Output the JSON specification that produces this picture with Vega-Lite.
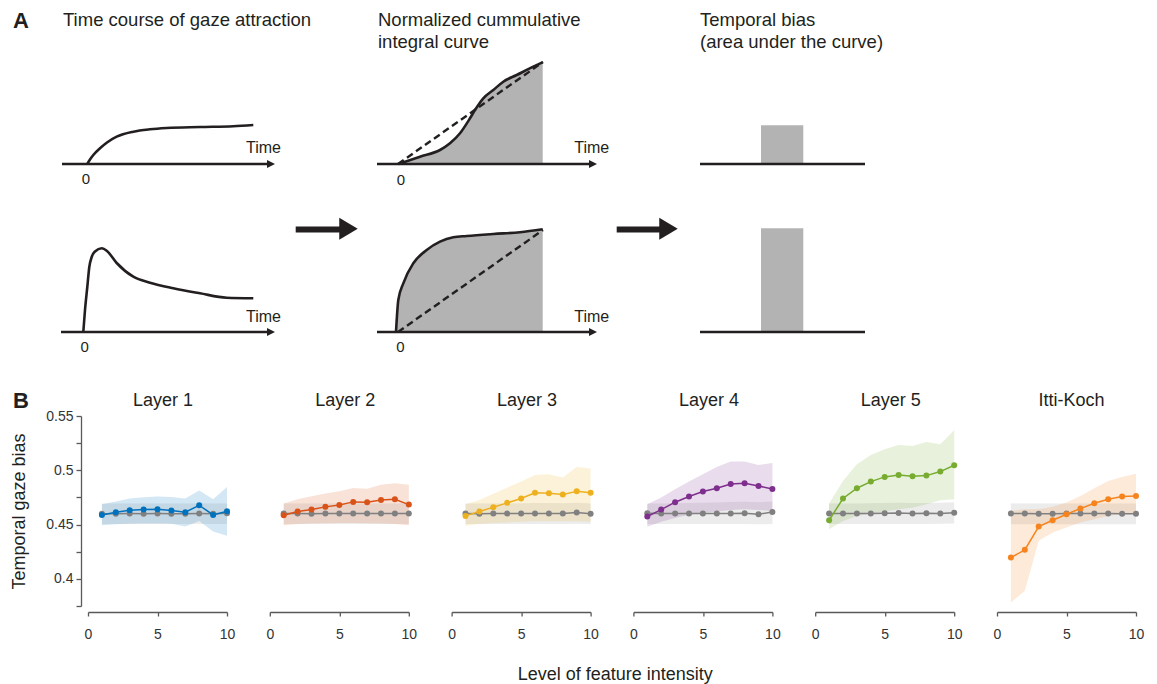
{
  "$schema": "https://vega.github.io/schema/vega-lite/v6.json",
  "padding": {"left": 10, "top": 5, "right": 8, "bottom": 2},
  "config": {"view": {"stroke": null}, "font": "Liberation Sans"},
  "datasets": {
    "one": [{}],
    "c1": [
      {"curve": "sustained", "t": 2.3, "v": 168}, {"curve": "sustained", "t": 5, "v": 172.5}, {"curve": "sustained", "t": 8.3, "v": 177},
      {"curve": "sustained", "t": 15, "v": 183.7}, {"curve": "sustained", "t": 22, "v": 189.5}, {"curve": "sustained", "t": 31.7, "v": 195.3},
      {"curve": "sustained", "t": 48.3, "v": 200.3}, {"curve": "sustained", "t": 65, "v": 202.7}, {"curve": "sustained", "t": 81.7, "v": 204},
      {"curve": "sustained", "t": 115, "v": 205}, {"curve": "sustained", "t": 148.3, "v": 205.8}, {"curve": "sustained", "t": 168.3, "v": 207},
      {"curve": "transient", "t": -1.7, "v": 0}, {"curve": "transient", "t": 0, "v": 22}, {"curve": "transient", "t": 2.3, "v": 45},
      {"curve": "transient", "t": 4.3, "v": 65}, {"curve": "transient", "t": 6.7, "v": 75}, {"curve": "transient", "t": 10, "v": 80.5},
      {"curve": "transient", "t": 16.7, "v": 83.7}, {"curve": "transient", "t": 22, "v": 81}, {"curve": "transient", "t": 31.7, "v": 69},
      {"curve": "transient", "t": 48.3, "v": 55.3}, {"curve": "transient", "t": 65, "v": 49.3}, {"curve": "transient", "t": 88.3, "v": 43.7},
      {"curve": "transient", "t": 115, "v": 38.7}, {"curve": "transient", "t": 141.7, "v": 34.3}, {"curve": "transient", "t": 168.3, "v": 33.7}
    ],
    "c2top": [
      {"t": 0.3, "v": 168}, {"t": 22, "v": 175.3}, {"t": 42, "v": 182}, {"t": 52, "v": 188.7}, {"t": 62, "v": 198.7},
      {"t": 72, "v": 213.7}, {"t": 77, "v": 222}, {"t": 85.3, "v": 233.7}, {"t": 95.3, "v": 242}, {"t": 105.3, "v": 250.3},
      {"t": 118.7, "v": 257}, {"t": 135.3, "v": 265.3}, {"t": 144.7, "v": 269.7}
    ],
    "c2bot": [
      {"t": -2, "v": 0}, {"t": 0.3, "v": 32}, {"t": 5.3, "v": 48.7}, {"t": 15.3, "v": 68.7}, {"t": 28.7, "v": 82},
      {"t": 42, "v": 90.3}, {"t": 55.3, "v": 94.7}, {"t": 68.7, "v": 96}, {"t": 95.3, "v": 98}, {"t": 122, "v": 99.7},
      {"t": 144.7, "v": 102.7}
    ],
    "bias": [
      {"panel": "Layer 1", "x": 1, "m": 0.4589, "lo": 0.4494, "hi": 0.4688, "g": 0.4600, "glo": 0.4505, "ghi": 0.4695},
      {"panel": "Layer 1", "x": 2, "m": 0.4614, "lo": 0.4503, "hi": 0.4712, "g": 0.4600, "glo": 0.4505, "ghi": 0.4695},
      {"panel": "Layer 1", "x": 3, "m": 0.4632, "lo": 0.4507, "hi": 0.4740, "g": 0.4601, "glo": 0.4505, "ghi": 0.4695},
      {"panel": "Layer 1", "x": 4, "m": 0.4638, "lo": 0.4509, "hi": 0.4752, "g": 0.4600, "glo": 0.4505, "ghi": 0.4695},
      {"panel": "Layer 1", "x": 5, "m": 0.4641, "lo": 0.4509, "hi": 0.4758, "g": 0.4601, "glo": 0.4505, "ghi": 0.4695},
      {"panel": "Layer 1", "x": 6, "m": 0.4629, "lo": 0.4507, "hi": 0.4755, "g": 0.4600, "glo": 0.4505, "ghi": 0.4695},
      {"panel": "Layer 1", "x": 7, "m": 0.4614, "lo": 0.4482, "hi": 0.4740, "g": 0.4600, "glo": 0.4505, "ghi": 0.4695},
      {"panel": "Layer 1", "x": 8, "m": 0.4678, "lo": 0.4534, "hi": 0.4813, "g": 0.4601, "glo": 0.4505, "ghi": 0.4695},
      {"panel": "Layer 1", "x": 9, "m": 0.4589, "lo": 0.4436, "hi": 0.4734, "g": 0.4600, "glo": 0.4505, "ghi": 0.4695},
      {"panel": "Layer 1", "x": 10, "m": 0.4623, "lo": 0.4396, "hi": 0.4847, "g": 0.4605, "glo": 0.4505, "ghi": 0.4695},
      {"panel": "Layer 2", "x": 1, "m": 0.4586, "lo": 0.4494, "hi": 0.4695, "g": 0.4601, "glo": 0.4505, "ghi": 0.4695},
      {"panel": "Layer 2", "x": 2, "m": 0.4620, "lo": 0.4505, "hi": 0.4733, "g": 0.4601, "glo": 0.4505, "ghi": 0.4695},
      {"panel": "Layer 2", "x": 3, "m": 0.4638, "lo": 0.4510, "hi": 0.4762, "g": 0.4600, "glo": 0.4505, "ghi": 0.4695},
      {"panel": "Layer 2", "x": 4, "m": 0.4663, "lo": 0.4512, "hi": 0.4787, "g": 0.4601, "glo": 0.4505, "ghi": 0.4695},
      {"panel": "Layer 2", "x": 5, "m": 0.4681, "lo": 0.4514, "hi": 0.4808, "g": 0.4601, "glo": 0.4505, "ghi": 0.4695},
      {"panel": "Layer 2", "x": 6, "m": 0.4709, "lo": 0.4515, "hi": 0.4836, "g": 0.4603, "glo": 0.4505, "ghi": 0.4695},
      {"panel": "Layer 2", "x": 7, "m": 0.4706, "lo": 0.4512, "hi": 0.4830, "g": 0.4601, "glo": 0.4505, "ghi": 0.4695},
      {"panel": "Layer 2", "x": 8, "m": 0.4727, "lo": 0.4510, "hi": 0.4866, "g": 0.4603, "glo": 0.4505, "ghi": 0.4695},
      {"panel": "Layer 2", "x": 9, "m": 0.4733, "lo": 0.4505, "hi": 0.4880, "g": 0.4601, "glo": 0.4505, "ghi": 0.4695},
      {"panel": "Layer 2", "x": 10, "m": 0.4684, "lo": 0.4494, "hi": 0.4866, "g": 0.4601, "glo": 0.4505, "ghi": 0.4695},
      {"panel": "Layer 3", "x": 1, "m": 0.4580, "lo": 0.4490, "hi": 0.4688, "g": 0.4601, "glo": 0.4505, "ghi": 0.4695},
      {"panel": "Layer 3", "x": 2, "m": 0.4620, "lo": 0.4505, "hi": 0.4727, "g": 0.4600, "glo": 0.4505, "ghi": 0.4695},
      {"panel": "Layer 3", "x": 3, "m": 0.4660, "lo": 0.4515, "hi": 0.4785, "g": 0.4601, "glo": 0.4505, "ghi": 0.4695},
      {"panel": "Layer 3", "x": 4, "m": 0.4700, "lo": 0.4520, "hi": 0.4840, "g": 0.4601, "glo": 0.4505, "ghi": 0.4695},
      {"panel": "Layer 3", "x": 5, "m": 0.4740, "lo": 0.4525, "hi": 0.4896, "g": 0.4601, "glo": 0.4505, "ghi": 0.4697},
      {"panel": "Layer 3", "x": 6, "m": 0.4792, "lo": 0.4530, "hi": 0.4957, "g": 0.4603, "glo": 0.4505, "ghi": 0.4698},
      {"panel": "Layer 3", "x": 7, "m": 0.4789, "lo": 0.4530, "hi": 0.4963, "g": 0.4602, "glo": 0.4505, "ghi": 0.4698},
      {"panel": "Layer 3", "x": 8, "m": 0.4776, "lo": 0.4530, "hi": 0.4933, "g": 0.4602, "glo": 0.4505, "ghi": 0.4697},
      {"panel": "Layer 3", "x": 9, "m": 0.4807, "lo": 0.4530, "hi": 0.5031, "g": 0.4612, "glo": 0.4507, "ghi": 0.4700},
      {"panel": "Layer 3", "x": 10, "m": 0.4792, "lo": 0.4525, "hi": 0.5016, "g": 0.4600, "glo": 0.4505, "ghi": 0.4695},
      {"panel": "Layer 4", "x": 1, "m": 0.4574, "lo": 0.4480, "hi": 0.4688, "g": 0.4605, "glo": 0.4505, "ghi": 0.4695},
      {"panel": "Layer 4", "x": 2, "m": 0.4638, "lo": 0.4525, "hi": 0.4749, "g": 0.4601, "glo": 0.4505, "ghi": 0.4695},
      {"panel": "Layer 4", "x": 3, "m": 0.4706, "lo": 0.4560, "hi": 0.4826, "g": 0.4602, "glo": 0.4505, "ghi": 0.4697},
      {"panel": "Layer 4", "x": 4, "m": 0.4758, "lo": 0.4590, "hi": 0.4896, "g": 0.4602, "glo": 0.4505, "ghi": 0.4698},
      {"panel": "Layer 4", "x": 5, "m": 0.4804, "lo": 0.4610, "hi": 0.4963, "g": 0.4602, "glo": 0.4505, "ghi": 0.4700},
      {"panel": "Layer 4", "x": 6, "m": 0.4835, "lo": 0.4620, "hi": 0.5031, "g": 0.4602, "glo": 0.4505, "ghi": 0.4703},
      {"panel": "Layer 4", "x": 7, "m": 0.4874, "lo": 0.4635, "hi": 0.5080, "g": 0.4602, "glo": 0.4505, "ghi": 0.4708},
      {"panel": "Layer 4", "x": 8, "m": 0.4880, "lo": 0.4640, "hi": 0.5080, "g": 0.4604, "glo": 0.4505, "ghi": 0.4710},
      {"panel": "Layer 4", "x": 9, "m": 0.4856, "lo": 0.4635, "hi": 0.5049, "g": 0.4595, "glo": 0.4503, "ghi": 0.4705},
      {"panel": "Layer 4", "x": 10, "m": 0.4828, "lo": 0.4625, "hi": 0.5068, "g": 0.4616, "glo": 0.4505, "ghi": 0.4712},
      {"panel": "Layer 5", "x": 1, "m": 0.4540, "lo": 0.4457, "hi": 0.4693, "g": 0.4601, "glo": 0.4505, "ghi": 0.4695},
      {"panel": "Layer 5", "x": 2, "m": 0.4740, "lo": 0.4534, "hi": 0.4902, "g": 0.4601, "glo": 0.4505, "ghi": 0.4695},
      {"panel": "Layer 5", "x": 3, "m": 0.4835, "lo": 0.4580, "hi": 0.5056, "g": 0.4601, "glo": 0.4505, "ghi": 0.4695},
      {"panel": "Layer 5", "x": 4, "m": 0.4896, "lo": 0.4601, "hi": 0.5141, "g": 0.4601, "glo": 0.4505, "ghi": 0.4697},
      {"panel": "Layer 5", "x": 5, "m": 0.4939, "lo": 0.4620, "hi": 0.5193, "g": 0.4604, "glo": 0.4505, "ghi": 0.4698},
      {"panel": "Layer 5", "x": 6, "m": 0.4957, "lo": 0.4641, "hi": 0.5233, "g": 0.4606, "glo": 0.4505, "ghi": 0.4700},
      {"panel": "Layer 5", "x": 7, "m": 0.4945, "lo": 0.4656, "hi": 0.5224, "g": 0.4602, "glo": 0.4505, "ghi": 0.4698},
      {"panel": "Layer 5", "x": 8, "m": 0.4951, "lo": 0.4688, "hi": 0.5261, "g": 0.4604, "glo": 0.4505, "ghi": 0.4698},
      {"panel": "Layer 5", "x": 9, "m": 0.4988, "lo": 0.4724, "hi": 0.5240, "g": 0.4602, "glo": 0.4507, "ghi": 0.4700},
      {"panel": "Layer 5", "x": 10, "m": 0.5046, "lo": 0.4733, "hi": 0.5368, "g": 0.4610, "glo": 0.4510, "ghi": 0.4705},
      {"panel": "Itti-Koch", "x": 1, "m": 0.4196, "lo": 0.3783, "hi": 0.4626, "g": 0.4601, "glo": 0.4503, "ghi": 0.4693},
      {"panel": "Itti-Koch", "x": 2, "m": 0.4267, "lo": 0.3890, "hi": 0.4641, "g": 0.4601, "glo": 0.4503, "ghi": 0.4693},
      {"panel": "Itti-Koch", "x": 3, "m": 0.4482, "lo": 0.4350, "hi": 0.4641, "g": 0.4600, "glo": 0.4503, "ghi": 0.4693},
      {"panel": "Itti-Koch", "x": 4, "m": 0.4540, "lo": 0.4426, "hi": 0.4663, "g": 0.4600, "glo": 0.4503, "ghi": 0.4693},
      {"panel": "Itti-Koch", "x": 5, "m": 0.4595, "lo": 0.4472, "hi": 0.4703, "g": 0.4601, "glo": 0.4503, "ghi": 0.4693},
      {"panel": "Itti-Koch", "x": 6, "m": 0.4647, "lo": 0.4518, "hi": 0.4764, "g": 0.4601, "glo": 0.4503, "ghi": 0.4693},
      {"panel": "Itti-Koch", "x": 7, "m": 0.4697, "lo": 0.4549, "hi": 0.4835, "g": 0.4601, "glo": 0.4503, "ghi": 0.4693},
      {"panel": "Itti-Koch", "x": 8, "m": 0.4733, "lo": 0.4580, "hi": 0.4902, "g": 0.4601, "glo": 0.4503, "ghi": 0.4693},
      {"panel": "Itti-Koch", "x": 9, "m": 0.4758, "lo": 0.4595, "hi": 0.4939, "g": 0.4600, "glo": 0.4503, "ghi": 0.4693},
      {"panel": "Itti-Koch", "x": 10, "m": 0.4764, "lo": 0.4605, "hi": 0.4969, "g": 0.4600, "glo": 0.4503, "ghi": 0.4693}
    ]
  },
  "title": {"text": "Level of feature intensity", "orient": "bottom", "anchor": "middle", "fontSize": 18, "fontWeight": "normal", "color": "#231f20", "offset": 25, "dx": 38},
  "spacing": 29,
  "vconcat": [
    {
      "hconcat": [
        {
          "width": 273, "height": 355,
          "layer": [
            {"data": {"name": "c1"}, "mark": {"type": "line", "color": "#231f20", "strokeWidth": 2.6, "interpolate": "monotone"},
             "encoding": {"x": {"field": "t", "type": "quantitative", "scale": {"domain": [3, 276], "nice": false, "zero": false}, "axis": null},
                          "y": {"field": "v", "type": "quantitative", "scale": {"domain": [-28, 327], "nice": false, "zero": false}, "axis": null},
                          "detail": {"field": "curve"}}},
            {"data": {"name": "one"}, "mark": {"type": "rule", "color": "#231f20", "strokeWidth": 2.5},
             "encoding": {"x": {"datum": -23, "axis": null}, "x2": {"datum": 183}, "y": {"datum": 168, "axis": null}}},
            {"data": {"name": "one"}, "mark": {"type": "rule", "color": "#231f20", "strokeWidth": 2.5},
             "encoding": {"x": {"datum": -24, "axis": null}, "x2": {"datum": 183}, "y": {"datum": 0, "axis": null}}},
            {"data": {"name": "one"}, "mark": {"type": "point", "shape": "M-1,-1L1,0L-1,1Z", "size": 64, "filled": true, "opacity": 1, "color": "#231f20"},
             "encoding": {"x": {"datum": 186, "axis": null}, "y": {"datum": 168, "axis": null}}},
            {"data": {"name": "one"}, "mark": {"type": "point", "shape": "M-1,-1L1,0L-1,1Z", "size": 64, "filled": true, "opacity": 1, "color": "#231f20"},
             "encoding": {"x": {"datum": 186, "axis": null}, "y": {"datum": 0, "axis": null}}},
            {"data": {"name": "one"}, "mark": {"type": "text", "text": "0", "fontSize": 15, "align": "center", "baseline": "middle", "color": "#231f20"},
             "encoding": {"x": {"datum": 1, "axis": null}, "y": {"datum": 153.3, "axis": null}}},
            {"data": {"name": "one"}, "mark": {"type": "text", "text": "0", "fontSize": 15, "align": "center", "baseline": "middle", "color": "#231f20"},
             "encoding": {"x": {"datum": -0.3, "axis": null}, "y": {"datum": -14.7, "axis": null}}},
            {"data": {"name": "one"}, "mark": {"type": "text", "text": "Time", "fontSize": 16, "align": "left", "baseline": "middle", "color": "#231f20"},
             "encoding": {"x": {"datum": 161, "axis": null}, "y": {"datum": 183.7, "axis": null}}},
            {"data": {"name": "one"}, "mark": {"type": "text", "text": "Time", "fontSize": 16, "align": "left", "baseline": "middle", "color": "#231f20"},
             "encoding": {"x": {"datum": 161, "axis": null}, "y": {"datum": 15.5, "axis": null}}},
            {"data": {"name": "one"}, "mark": {"type": "rule", "color": "#231f20", "strokeWidth": 6},
             "encoding": {"x": {"datum": 210.7, "axis": null}, "x2": {"datum": 257}, "y": {"datum": 102.5, "axis": null}}},
            {"data": {"name": "one"}, "mark": {"type": "point", "shape": "M-0.84,-1L0.84,0L-0.84,1Z", "size": 484, "filled": true, "opacity": 1, "color": "#231f20"},
             "encoding": {"x": {"datum": 263.5, "axis": null}, "y": {"datum": 103.2, "axis": null}}},
            {"data": {"name": "one"}, "mark": {"type": "text", "text": "A", "fontSize": 22, "fontWeight": "bold", "align": "left", "baseline": "alphabetic", "color": "#231f20"},
             "encoding": {"x": {"datum": -72, "axis": null}, "y": {"datum": 304, "axis": null}}},
            {"data": {"name": "one"}, "mark": {"type": "text", "text": "Time course of gaze attraction", "fontSize": 18.5, "align": "left", "baseline": "alphabetic", "color": "#231f20"},
             "encoding": {"x": {"datum": -22, "axis": null}, "y": {"datum": 306, "axis": null}}}
          ]
        },
        {
          "width": 307, "height": 355,
          "layer": [
            {"data": {"name": "c2top"}, "mark": {"type": "area", "color": "#b3b3b3", "opacity": 1, "interpolate": "monotone"},
             "encoding": {"x": {"field": "t", "type": "quantitative", "scale": {"domain": [-21, 286], "nice": false, "zero": false}, "axis": null},
                          "y": {"field": "v", "type": "quantitative", "scale": {"domain": [-28, 327], "nice": false, "zero": false}, "axis": null},
                          "y2": {"datum": 168}}},
            {"data": {"name": "c2bot"}, "mark": {"type": "area", "color": "#b3b3b3", "opacity": 1, "interpolate": "monotone"},
             "encoding": {"x": {"field": "t", "type": "quantitative", "axis": null},
                          "y": {"field": "v", "type": "quantitative", "axis": null},
                          "y2": {"datum": 0}}},
            {"data": {"name": "one"}, "mark": {"type": "rule", "color": "#231f20", "strokeWidth": 2.5},
             "encoding": {"x": {"datum": -21, "axis": null}, "x2": {"datum": 192}, "y": {"datum": 168, "axis": null}}},
            {"data": {"name": "one"}, "mark": {"type": "rule", "color": "#231f20", "strokeWidth": 2.5},
             "encoding": {"x": {"datum": -21, "axis": null}, "x2": {"datum": 192}, "y": {"datum": 0, "axis": null}}},
            {"data": {"name": "one"}, "mark": {"type": "point", "shape": "M-1,-1L1,0L-1,1Z", "size": 64, "filled": true, "opacity": 1, "color": "#231f20"},
             "encoding": {"x": {"datum": 195, "axis": null}, "y": {"datum": 168, "axis": null}}},
            {"data": {"name": "one"}, "mark": {"type": "point", "shape": "M-1,-1L1,0L-1,1Z", "size": 64, "filled": true, "opacity": 1, "color": "#231f20"},
             "encoding": {"x": {"datum": 195, "axis": null}, "y": {"datum": 0, "axis": null}}},
            {"data": {"name": "c2top"}, "mark": {"type": "line", "color": "#231f20", "strokeWidth": 2.6, "interpolate": "monotone"},
             "encoding": {"x": {"field": "t", "type": "quantitative", "axis": null}, "y": {"field": "v", "type": "quantitative", "axis": null}}},
            {"data": {"name": "c2bot"}, "mark": {"type": "line", "color": "#231f20", "strokeWidth": 2.6, "interpolate": "monotone"},
             "encoding": {"x": {"field": "t", "type": "quantitative", "axis": null}, "y": {"field": "v", "type": "quantitative", "axis": null}}},
            {"data": {"name": "one"}, "mark": {"type": "rule", "color": "#231f20", "strokeWidth": 2.4, "strokeDash": [7, 4]},
             "encoding": {"x": {"datum": 0, "axis": null}, "x2": {"datum": 145}, "y": {"datum": 168, "axis": null}, "y2": {"datum": 270}}},
            {"data": {"name": "one"}, "mark": {"type": "rule", "color": "#231f20", "strokeWidth": 2.4, "strokeDash": [7, 4]},
             "encoding": {"x": {"datum": 0, "axis": null}, "x2": {"datum": 145}, "y": {"datum": 0, "axis": null}, "y2": {"datum": 102}}},
            {"data": {"name": "one"}, "mark": {"type": "text", "text": "0", "fontSize": 15, "align": "center", "baseline": "middle", "color": "#231f20"},
             "encoding": {"x": {"datum": 2.8, "axis": null}, "y": {"datum": 152, "axis": null}}},
            {"data": {"name": "one"}, "mark": {"type": "text", "text": "0", "fontSize": 15, "align": "center", "baseline": "middle", "color": "#231f20"},
             "encoding": {"x": {"datum": 2.5, "axis": null}, "y": {"datum": -14.7, "axis": null}}},
            {"data": {"name": "one"}, "mark": {"type": "text", "text": "Time", "fontSize": 16, "align": "left", "baseline": "middle", "color": "#231f20"},
             "encoding": {"x": {"datum": 176.3, "axis": null}, "y": {"datum": 183.7, "axis": null}}},
            {"data": {"name": "one"}, "mark": {"type": "text", "text": "Time", "fontSize": 16, "align": "left", "baseline": "middle", "color": "#231f20"},
             "encoding": {"x": {"datum": 176.3, "axis": null}, "y": {"datum": 15.5, "axis": null}}},
            {"data": {"name": "one"}, "mark": {"type": "rule", "color": "#231f20", "strokeWidth": 6},
             "encoding": {"x": {"datum": 218.7, "axis": null}, "x2": {"datum": 263}, "y": {"datum": 102.5, "axis": null}}},
            {"data": {"name": "one"}, "mark": {"type": "point", "shape": "M-0.84,-1L0.84,0L-0.84,1Z", "size": 484, "filled": true, "opacity": 1, "color": "#231f20"},
             "encoding": {"x": {"datum": 270.5, "axis": null}, "y": {"datum": 103.2, "axis": null}}},
            {"data": {"name": "one"}, "mark": {"type": "text", "text": ["Normalized cummulative", "integral curve"], "lineHeight": 22, "fontSize": 18.5, "align": "left", "baseline": "alphabetic", "color": "#231f20"},
             "encoding": {"x": {"datum": -20, "axis": null}, "y": {"datum": 306, "axis": null}}}
          ]
        },
        {
          "width": 170, "height": 355,
          "layer": [
            {"data": {"name": "one"}, "mark": {"type": "rect", "color": "#b3b3b3"},
             "encoding": {"x": {"datum": 61, "scale": {"domain": [0, 170], "nice": false, "zero": false}, "axis": null}, "x2": {"datum": 103.3},
                          "y": {"datum": 168, "scale": {"domain": [-28, 327], "nice": false, "zero": false}, "axis": null}, "y2": {"datum": 206.7}}},
            {"data": {"name": "one"}, "mark": {"type": "rect", "color": "#b3b3b3"},
             "encoding": {"x": {"datum": 61, "axis": null}, "x2": {"datum": 103.3}, "y": {"datum": 0, "axis": null}, "y2": {"datum": 103.7}}},
            {"data": {"name": "one"}, "mark": {"type": "rule", "color": "#231f20", "strokeWidth": 2.5},
             "encoding": {"x": {"datum": 0, "axis": null}, "x2": {"datum": 165}, "y": {"datum": 168, "axis": null}}},
            {"data": {"name": "one"}, "mark": {"type": "rule", "color": "#231f20", "strokeWidth": 2.5},
             "encoding": {"x": {"datum": 0, "axis": null}, "x2": {"datum": 165}, "y": {"datum": 0, "axis": null}}},
            {"data": {"name": "one"}, "mark": {"type": "text", "text": ["Temporal bias", "(area under the curve)"], "lineHeight": 22, "fontSize": 18.5, "align": "left", "baseline": "alphabetic", "color": "#231f20"},
             "encoding": {"x": {"datum": 0, "axis": null}, "y": {"datum": 306, "axis": null}}}
          ]
        }
      ],
      "spacing": 16,
      "bounds": "flush"
    },
    {
      "hconcat": [
        {
          "width": 139, "height": 190,
          "layer": [
            {"data": {"name": "bias"}, "transform": [{"filter": "datum.panel === 'Layer 1'"}],
             "mark": {"type": "area", "color": "#d9d9d9", "opacity": 0.5},
             "encoding": {
               "x": {"field": "x", "type": "quantitative", "scale": {"domain": [0, 10], "nice": false, "zero": false},
                     "axis": {"values": [0, 5, 10], "format": "d", "title": null, "offset": 6, "grid": false, "labelFontSize": 14, "labelColor": "#333333", "labelPadding": 11, "tickSize": 4, "tickColor": "#595959", "domainColor": "#595959", "domainWidth": 1.3, "tickWidth": 1.3, "labelFlush": false, "labelOverlap": false, "labelAngle": 0}},
               "y": {"field": "glo", "type": "quantitative", "scale": {"domain": [0.375, 0.55], "nice": false, "zero": false},
                     "axis": {"values": [0.375, 0.4, 0.425, 0.45, 0.475, 0.5, 0.525, 0.55], "tickCount": 20, "labelExpr": "length(format(datum.value, '.3~')) <= 4 ? format(datum.value, '.3~') : ''", "title": "Temporal gaze bias", "titleFontSize": 18, "titleFontWeight": "normal", "titleColor": "#231f20", "titlePadding": 17, "offset": 7, "grid": false, "labelFontSize": 14, "labelColor": "#333333", "labelPadding": 3, "tickSize": 5, "tickColor": "#595959", "domainColor": "#595959", "domainWidth": 1.3, "tickWidth": 1.3, "labelFlush": false, "labelOverlap": false}},
               "y2": {"field": "ghi"}}},
            {"data": {"name": "bias"}, "transform": [{"filter": "datum.panel === 'Layer 1'"}],
             "mark": {"type": "area", "color": "#0072bd", "opacity": 0.17},
             "encoding": {"x": {"field": "x", "type": "quantitative"}, "y": {"field": "lo", "type": "quantitative"}, "y2": {"field": "hi"}}},
            {"data": {"name": "bias"}, "transform": [{"filter": "datum.panel === 'Layer 1'"}],
             "mark": {"type": "line", "color": "#808080", "strokeWidth": 1.5, "point": {"filled": true, "size": 36, "color": "#808080", "opacity": 1}},
             "encoding": {"x": {"field": "x", "type": "quantitative"}, "y": {"field": "g", "type": "quantitative"}}},
            {"data": {"name": "bias"}, "transform": [{"filter": "datum.panel === 'Layer 1'"}],
             "mark": {"type": "line", "color": "#0072bd", "strokeWidth": 1.5, "point": {"filled": true, "size": 36, "color": "#0072bd", "opacity": 1}},
             "encoding": {"x": {"field": "x", "type": "quantitative"}, "y": {"field": "m", "type": "quantitative"}}},
            {"data": {"name": "one"}, "mark": {"type": "text", "text": "B", "fontSize": 22, "fontWeight": "bold", "align": "left", "baseline": "alphabetic", "color": "#231f20"},
             "encoding": {"x": {"datum": -5.4, "type": "quantitative"}, "y": {"datum": 0.5574, "type": "quantitative"}}},
            {"data": {"name": "one"}, "mark": {"type": "text", "text": "Layer 1", "fontSize": 18, "align": "center", "baseline": "alphabetic", "color": "#231f20"},
             "encoding": {"x": {"datum": 5.4, "type": "quantitative"}, "y": {"datum": 0.5592, "type": "quantitative"}}}
          ]
        },
        {
          "width": 139, "height": 190,
          "title": {"text": "Layer 2", "fontSize": 18, "fontWeight": "normal", "color": "#231f20", "offset": 6, "dx": 6},
          "data": {"name": "bias"},
          "transform": [{"filter": "datum.panel === 'Layer 2'"}],
          "layer": [
            {"mark": {"type": "area", "color": "#d9d9d9", "opacity": 0.5},
             "encoding": {
               "x": {"field": "x", "type": "quantitative", "scale": {"domain": [0, 10], "nice": false, "zero": false},
                     "axis": {"values": [0, 5, 10], "format": "d", "title": null, "offset": 6, "grid": false, "labelFontSize": 14, "labelColor": "#333333", "labelPadding": 11, "tickSize": 4, "tickColor": "#595959", "domainColor": "#595959", "domainWidth": 1.3, "tickWidth": 1.3, "labelFlush": false, "labelOverlap": false, "labelAngle": 0}},
               "y": {"field": "glo", "type": "quantitative", "scale": {"domain": [0.375, 0.55], "nice": false, "zero": false}, "axis": null},
               "y2": {"field": "ghi"}}},
            {"mark": {"type": "area", "color": "#d95319", "opacity": 0.17},
             "encoding": {"x": {"field": "x", "type": "quantitative"}, "y": {"field": "lo", "type": "quantitative"}, "y2": {"field": "hi"}}},
            {"mark": {"type": "line", "color": "#808080", "strokeWidth": 1.5, "point": {"filled": true, "size": 36, "color": "#808080", "opacity": 1}},
             "encoding": {"x": {"field": "x", "type": "quantitative"}, "y": {"field": "g", "type": "quantitative"}}},
            {"mark": {"type": "line", "color": "#d95319", "strokeWidth": 1.5, "point": {"filled": true, "size": 36, "color": "#d95319", "opacity": 1}},
             "encoding": {"x": {"field": "x", "type": "quantitative"}, "y": {"field": "m", "type": "quantitative"}}}
          ]
        },
        {
          "width": 139, "height": 190,
          "title": {"text": "Layer 3", "fontSize": 18, "fontWeight": "normal", "color": "#231f20", "offset": 6, "dx": 6},
          "data": {"name": "bias"},
          "transform": [{"filter": "datum.panel === 'Layer 3'"}],
          "layer": [
            {"mark": {"type": "area", "color": "#d9d9d9", "opacity": 0.5},
             "encoding": {
               "x": {"field": "x", "type": "quantitative", "scale": {"domain": [0, 10], "nice": false, "zero": false},
                     "axis": {"values": [0, 5, 10], "format": "d", "title": null, "offset": 6, "grid": false, "labelFontSize": 14, "labelColor": "#333333", "labelPadding": 11, "tickSize": 4, "tickColor": "#595959", "domainColor": "#595959", "domainWidth": 1.3, "tickWidth": 1.3, "labelFlush": false, "labelOverlap": false, "labelAngle": 0}},
               "y": {"field": "glo", "type": "quantitative", "scale": {"domain": [0.375, 0.55], "nice": false, "zero": false}, "axis": null},
               "y2": {"field": "ghi"}}},
            {"mark": {"type": "area", "color": "#edb120", "opacity": 0.17},
             "encoding": {"x": {"field": "x", "type": "quantitative"}, "y": {"field": "lo", "type": "quantitative"}, "y2": {"field": "hi"}}},
            {"mark": {"type": "line", "color": "#808080", "strokeWidth": 1.5, "point": {"filled": true, "size": 36, "color": "#808080", "opacity": 1}},
             "encoding": {"x": {"field": "x", "type": "quantitative"}, "y": {"field": "g", "type": "quantitative"}}},
            {"mark": {"type": "line", "color": "#edb120", "strokeWidth": 1.5, "point": {"filled": true, "size": 36, "color": "#edb120", "opacity": 1}},
             "encoding": {"x": {"field": "x", "type": "quantitative"}, "y": {"field": "m", "type": "quantitative"}}}
          ]
        },
        {
          "width": 139, "height": 190,
          "title": {"text": "Layer 4", "fontSize": 18, "fontWeight": "normal", "color": "#231f20", "offset": 6, "dx": 6},
          "data": {"name": "bias"},
          "transform": [{"filter": "datum.panel === 'Layer 4'"}],
          "layer": [
            {"mark": {"type": "area", "color": "#d9d9d9", "opacity": 0.5},
             "encoding": {
               "x": {"field": "x", "type": "quantitative", "scale": {"domain": [0, 10], "nice": false, "zero": false},
                     "axis": {"values": [0, 5, 10], "format": "d", "title": null, "offset": 6, "grid": false, "labelFontSize": 14, "labelColor": "#333333", "labelPadding": 11, "tickSize": 4, "tickColor": "#595959", "domainColor": "#595959", "domainWidth": 1.3, "tickWidth": 1.3, "labelFlush": false, "labelOverlap": false, "labelAngle": 0}},
               "y": {"field": "glo", "type": "quantitative", "scale": {"domain": [0.375, 0.55], "nice": false, "zero": false}, "axis": null},
               "y2": {"field": "ghi"}}},
            {"mark": {"type": "area", "color": "#7e2f8e", "opacity": 0.17},
             "encoding": {"x": {"field": "x", "type": "quantitative"}, "y": {"field": "lo", "type": "quantitative"}, "y2": {"field": "hi"}}},
            {"mark": {"type": "line", "color": "#808080", "strokeWidth": 1.5, "point": {"filled": true, "size": 36, "color": "#808080", "opacity": 1}},
             "encoding": {"x": {"field": "x", "type": "quantitative"}, "y": {"field": "g", "type": "quantitative"}}},
            {"mark": {"type": "line", "color": "#7e2f8e", "strokeWidth": 1.5, "point": {"filled": true, "size": 36, "color": "#7e2f8e", "opacity": 1}},
             "encoding": {"x": {"field": "x", "type": "quantitative"}, "y": {"field": "m", "type": "quantitative"}}}
          ]
        },
        {
          "width": 139, "height": 190,
          "title": {"text": "Layer 5", "fontSize": 18, "fontWeight": "normal", "color": "#231f20", "offset": 6, "dx": 6},
          "data": {"name": "bias"},
          "transform": [{"filter": "datum.panel === 'Layer 5'"}],
          "layer": [
            {"mark": {"type": "area", "color": "#d9d9d9", "opacity": 0.5},
             "encoding": {
               "x": {"field": "x", "type": "quantitative", "scale": {"domain": [0, 10], "nice": false, "zero": false},
                     "axis": {"values": [0, 5, 10], "format": "d", "title": null, "offset": 6, "grid": false, "labelFontSize": 14, "labelColor": "#333333", "labelPadding": 11, "tickSize": 4, "tickColor": "#595959", "domainColor": "#595959", "domainWidth": 1.3, "tickWidth": 1.3, "labelFlush": false, "labelOverlap": false, "labelAngle": 0}},
               "y": {"field": "glo", "type": "quantitative", "scale": {"domain": [0.375, 0.55], "nice": false, "zero": false}, "axis": null},
               "y2": {"field": "ghi"}}},
            {"mark": {"type": "area", "color": "#77ac30", "opacity": 0.17},
             "encoding": {"x": {"field": "x", "type": "quantitative"}, "y": {"field": "lo", "type": "quantitative"}, "y2": {"field": "hi"}}},
            {"mark": {"type": "line", "color": "#808080", "strokeWidth": 1.5, "point": {"filled": true, "size": 36, "color": "#808080", "opacity": 1}},
             "encoding": {"x": {"field": "x", "type": "quantitative"}, "y": {"field": "g", "type": "quantitative"}}},
            {"mark": {"type": "line", "color": "#77ac30", "strokeWidth": 1.5, "point": {"filled": true, "size": 36, "color": "#77ac30", "opacity": 1}},
             "encoding": {"x": {"field": "x", "type": "quantitative"}, "y": {"field": "m", "type": "quantitative"}}}
          ]
        },
        {
          "width": 139, "height": 190,
          "title": {"text": "Itti-Koch", "fontSize": 18, "fontWeight": "normal", "color": "#231f20", "offset": 6, "dx": 5},
          "data": {"name": "bias"},
          "transform": [{"filter": "datum.panel === 'Itti-Koch'"}],
          "layer": [
            {"mark": {"type": "area", "color": "#d9d9d9", "opacity": 0.5},
             "encoding": {
               "x": {"field": "x", "type": "quantitative", "scale": {"domain": [0, 10], "nice": false, "zero": false},
                     "axis": {"values": [0, 5, 10], "format": "d", "title": null, "offset": 6, "grid": false, "labelFontSize": 14, "labelColor": "#333333", "labelPadding": 11, "tickSize": 4, "tickColor": "#595959", "domainColor": "#595959", "domainWidth": 1.3, "tickWidth": 1.3, "labelFlush": false, "labelOverlap": false, "labelAngle": 0}},
               "y": {"field": "glo", "type": "quantitative", "scale": {"domain": [0.375, 0.55], "nice": false, "zero": false}, "axis": null},
               "y2": {"field": "ghi"}}},
            {"mark": {"type": "area", "color": "#f6841e", "opacity": 0.17},
             "encoding": {"x": {"field": "x", "type": "quantitative"}, "y": {"field": "lo", "type": "quantitative"}, "y2": {"field": "hi"}}},
            {"mark": {"type": "line", "color": "#808080", "strokeWidth": 1.5, "point": {"filled": true, "size": 36, "color": "#808080", "opacity": 1}},
             "encoding": {"x": {"field": "x", "type": "quantitative"}, "y": {"field": "g", "type": "quantitative"}}},
            {"mark": {"type": "line", "color": "#f6841e", "strokeWidth": 1.5, "point": {"filled": true, "size": 36, "color": "#f6841e", "opacity": 1}},
             "encoding": {"x": {"field": "x", "type": "quantitative"}, "y": {"field": "m", "type": "quantitative"}}}
          ]
        }
      ],
      "spacing": 42.8,
      "bounds": "flush"
    }
  ]
}
